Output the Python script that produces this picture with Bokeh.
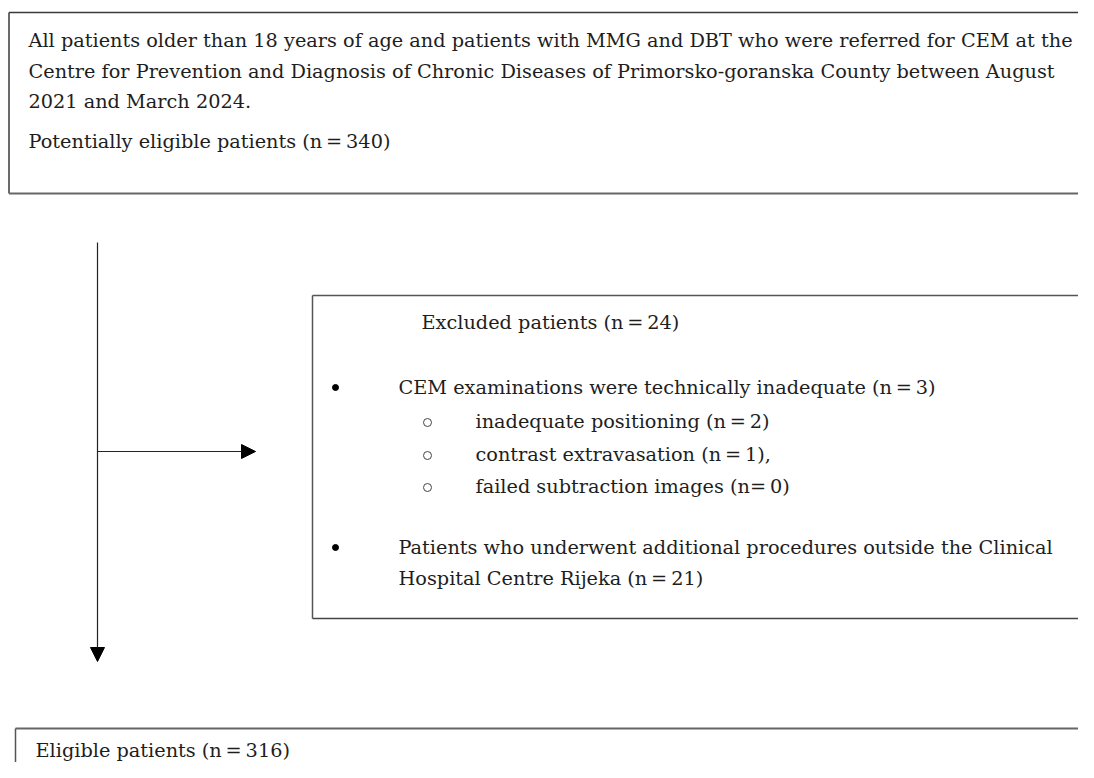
from bokeh.plotting import figure
from bokeh.models import Range1d, Arrow, NormalHead, ColumnDataSource
from bokeh.core.properties import value
from bokeh.embed import file_html
from bokeh.resources import INLINE

# counts in the flow
n_total = 340
n_excluded = 24
n_technical = 3
n_positioning = 2
n_extravasation = 1
n_subtraction = 0
n_outside = 21
n_eligible = 316

W, H = 1078, 762
p = figure(width=W, height=H, output_backend="svg", toolbar_location=None,
           x_range=Range1d(0, W), y_range=Range1d(H, 0),
           min_border=0, outline_line_color=None)
p.axis.visible = False
p.grid.visible = False
p.background_fill_color = "white"

FONT = value("DejaVu Serif")
FS = "19.3px"
COL = "#1e1e1e"
LINE = "#3a3a3a"
EQ = "\u2009=\u2009"
TS = "\u2009"

def seg(xs, ys, color=LINE, w=1.5):
    p.line(xs, ys, line_color=color, line_width=w)

# top box (left, top, bottom edges; right runs off the page)
seg([8.5, 2000], [12, 12])
seg([8.5, 8.5], [12, 193])
seg([8.5, 2000], [193, 193], color="#666666", w=2)

# exclusion box
seg([312, 2000], [295, 295], color="#555555")
seg([312, 312], [295, 618], color="#555555")
seg([312, 2000], [618, 618], color="#444444")

# bottom box
seg([15, 2000], [728, 728], color="#666666", w=2)
seg([15, 15], [728, 2000], color="#555555")

# arrows
p.add_layout(Arrow(end=NormalHead(size=14, fill_color="black", line_color="black"),
                   x_start=97, y_start=242, x_end=97, y_end=661,
                   line_color="#222222", line_width=1.2))
p.add_layout(Arrow(end=NormalHead(size=14, fill_color="black", line_color="black"),
                   x_start=97, y_start=451, x_end=255, y_end=451,
                   line_color="#222222", line_width=1.2))

texts = [
    (28, 40, "All patients older than 18 years of age and patients with MMG and DBT who were referred for CEM at the"),
    (28, 71, "Centre for Prevention and Diagnosis of Chronic Diseases of Primorsko-goranska County between August"),
    (28, 101, "2021 and March 2024."),
    (28, 141, f"Potentially eligible patients (n{EQ}{n_total})"),
    (421, 322, f"Excluded patients (n{EQ}{n_excluded})"),
    (398, 387, f"CEM examinations were technically inadequate (n{EQ}{n_technical})"),
    (475, 421, f"inadequate positioning (n{EQ}{n_positioning})"),
    (475, 454, f"contrast extravasation (n{EQ}{n_extravasation}),"),
    (475, 486, f"failed subtraction images (n={TS}{n_subtraction})"),
    (398, 547, "Patients who underwent additional procedures outside the Clinical"),
    (398, 578, f"Hospital Centre Rijeka (n{EQ}{n_outside})"),
    (35, 750, f"Eligible patients (n{EQ}{n_eligible})"),
]
src = ColumnDataSource(dict(x=[t[0] for t in texts], y=[t[1] for t in texts],
                            t=[t[2] for t in texts]))
p.text(x="x", y="y", text="t", source=src, text_font=FONT, text_font_size=FS,
       text_color=COL, text_align="left", text_baseline="middle")

# bullets
p.scatter([335, 335], [387, 547], size=6, marker="circle", fill_color="black", line_color="black")
p.scatter([427, 427, 427], [422, 455, 487], size=8, marker="circle",
          fill_color=None, line_color="#444444", line_width=1)

open("out.html", "w").write(file_html(p, INLINE))
